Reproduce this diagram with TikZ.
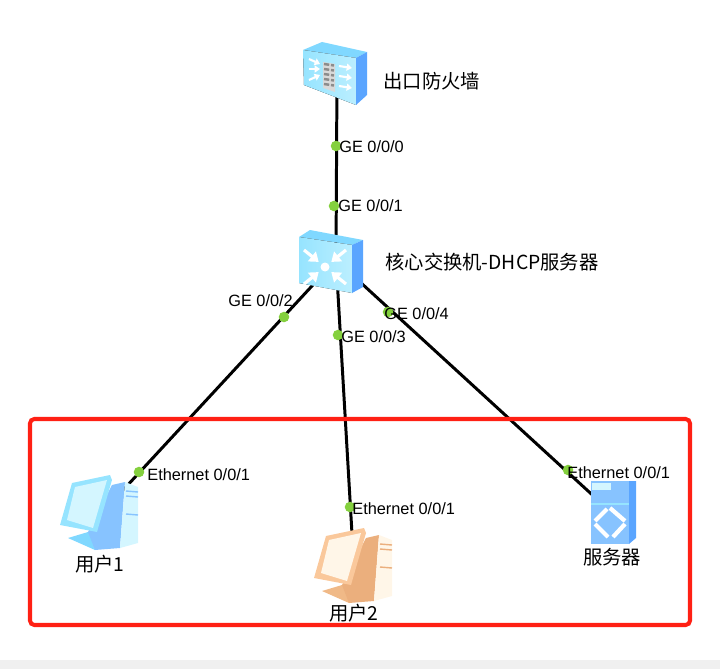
\documentclass[tikz,border=0pt]{standalone}
\usepackage{fontspec}
\setmainfont{Liberation Sans}
\newfontfamily\cjk{Noto Sans CJK SC}
\usepackage{xcolor}
\usetikzlibrary{arrows.meta}
\definecolor{frameRed}{RGB}{255,32,20}
\definecolor{portGreen}{RGB}{132,208,62}
\definecolor{footGrey}{RGB}{240,240,240}
\definecolor{blueTop}{RGB}{128,216,255}
\definecolor{blueFront}{RGB}{150,228,255}
\definecolor{blueSide}{RGB}{90,165,255}
\definecolor{blueMid}{RGB}{135,195,255}
\definecolor{blueSoft}{RGB}{212,246,255}
\definecolor{orangeTop}{RGB}{240,185,135}
\definecolor{orangeFront}{RGB}{250,200,155}
\definecolor{orangeSide}{RGB}{232,166,110}
\definecolor{orangeMid}{RGB}{235,175,125}
\definecolor{orangeSoft}{RGB}{255,246,232}
\tikzset{
	device/.style={inner sep=0pt,minimum size=2pt},
	link/.style={draw=black,line width=1.7pt},
	portdot/.style={circle,fill=portGreen,inner sep=0pt,minimum size=6pt},
	portlabel/.style={anchor=west,inner sep=0pt,font=\fontsize{9.3}{11}\selectfont},
	devlabel/.style={inner sep=0pt,font=\fontsize{11}{12}\selectfont\cjk},
	pics/firewallicon/.style={code={
		\fill[blueTop] (-34,-23) -- (-15,-31) -- (30,-21) -- (19,-15) -- cycle;
		\fill[left color=blueFront,right color=blueSoft!60!blueFront] (-34,-23) -- (19,-15) -- (19,32) -- (-33,12) -- cycle;
		\fill[blueSide] (19,-15) -- (30,-21) -- (30,22) -- (19,32) -- cycle;
		\fill[white!85!black] (-14,-11) -- (-2,-9) -- (-2,19) -- (-14,15) -- cycle;
		\foreach \row in {-9,-4,1,6,11}
			\draw[black!45,line width=1.4pt,dash pattern=on 3pt off 1pt] (-13,\row) -- (-3,\row+1.5);
		\foreach \row/\tilt in {-14/5,-4/0,7/-5}
			\draw[white,line width=1.2pt,-{Triangle[length=3pt,width=4pt]}] (-28,\row) -- (-17,\row+\tilt);
		\foreach \row in {-7,3,13}
			\draw[white,line width=1.2pt,-{Triangle[length=3pt,width=4pt]}] (2,\row) -- (15,\row+2);
	}},
	pics/switchicon/.style={code={
		\fill[blueTop] (-37,-23) -- (-26,-30) -- (27,-20) -- (16,-15) -- cycle;
		\fill[left color=blueFront,right color=blueSoft!60!blueFront] (-37,-23) -- (16,-15) -- (16,33) -- (-37,23) -- cycle;
		\fill[blueSide] (16,-15) -- (27,-20) -- (27,27) -- (16,33) -- cycle;
		\fill[white] (-11,7) circle (4.5);
		\foreach \dx/\dy in {-21/-17,-21/17,21/-17,21/17}
			\draw[white,line width=1.8pt,-{Triangle[length=5pt,width=7pt]}] (-11+\dx,7+\dy) -- (-11+0.3*\dx,7+0.3*\dy);
	}},
	pics/pcicon/.style={code={
		\fill[#1Top] (-32,23) -- (-12,17) -- (5,28) -- (-5,35) -- cycle;
		\fill[#1Mid] (12,-30) -- (25,-33) -- (20,33) -- (-5,35) -- (-12,17) -- cycle;
		\fill[#1Soft] (25,-33) -- (38,-28) -- (38,28) -- (20,33) -- cycle;
		\foreach \row in {-24,-19,-1}
			\draw[#1Mid,line width=0.8pt] (26,\row) -- (38,\row+1);
		\fill[#1Front] (-40,10) -- (-28,-32) -- (10,-40) -- (12,-35) -- (-3,17) -- cycle;
		\fill[#1Soft] (-33,5) -- (-25,-28) -- (7,-35) -- (-7,13) -- cycle;
	}},
	pics/servericon/.style={code={
		\fill[blueMid] (-20,-31) rectangle (18,32);
		\fill[blueSide] (18,-31) -- (25,-31) -- (25,26) -- (18,32) -- cycle;
		\fill[blueSoft] (-19,-29) rectangle (0,-22);
		\draw[blueFront,line width=0.6pt] (-20,-8) -- (18,-8);
		\foreach \ax/\ay/\bx/\by in {-1/-4/14/9,14/12/2/25,-3/25/-16/12,-16/9/-4/-3}
			\draw[white,line width=2.4pt] (\ax,\ay) -- (\bx,\by);
	}}
}
\begin{document}
\begin{tikzpicture}[x=0.02cm,y=-0.02cm]
	\useasboundingbox (0,0) rectangle (720,669);
	\fill[footGrey] (0,660) rectangle (720,669);
	% positions of the devices
	\node[device] (firewall) at (337,73) {};
	\node[device] (core) at (336,260) {};
	\node[device] (user1) at (100,515) {};
	\node[device] (user2) at (354,568) {};
	\node[device] (server) at (611,512) {};
	% links
	\draw[link] (firewall.center) -- (core.center);
	\draw[link] (core.center) -- (user1.center);
	\draw[link] (core.center) -- (user2.center);
	\draw[link] (core.center) -- (server.center);
	% icons on top of the links
	\pic at (firewall) {firewallicon};
	\pic at (core) {switchicon};
	\pic at (user1) {pcicon=blue};
	\pic at (user2) {pcicon=orange};
	\pic at (server) {servericon};
	% ports
	\node[portdot] (p0) at (336,146) {};
	\node[portdot] (p1) at (334,206) {};
	\node[portdot] (p2) at (284,317) {};
	\node[portdot] (p3) at (338,335) {};
	\node[portdot] (p4) at (388,312) {};
	\node[portdot] (p5) at (139,472) {};
	\node[portdot] (p6) at (350,507) {};
	\node[portdot] (p7) at (568,470) {};
	\node[portlabel] (l0) at (339,147) {GE 0/0/0};
	\node[portlabel] (l1) at (338,206) {GE 0/0/1};
	\node[portlabel] (l2) at (228,301) {GE 0/0/2};
	\node[portlabel] (l3) at (341,337) {GE 0/0/3};
	\node[portlabel] (l4) at (384,314) {GE 0/0/4};
	\node[portlabel] (l5) at (147,475) {Ethernet 0/0/1};
	\node[portlabel] (l6) at (352,509) {Ethernet 0/0/1};
	\node[portlabel] (l7) at (567,473) {Ethernet 0/0/1};
	% device names
	\node[devlabel,anchor=west] (nfirewall) at (383,81) {出口防火墙};
	\node[devlabel,anchor=west] (ncore) at (385,262) {核心交换机-DHCP服务器};
	\node[devlabel] (nuser1) at (100,564) {用户1};
	\node[devlabel] (nuser2) at (354,613) {用户2};
	\node[devlabel] (nserver) at (612,557) {服务器};
	% box round the lower row
	\draw[frameRed,line width=2.3pt,rounded corners=2.5pt] (30,419) rectangle (690,625);
\end{tikzpicture}
\end{document}
